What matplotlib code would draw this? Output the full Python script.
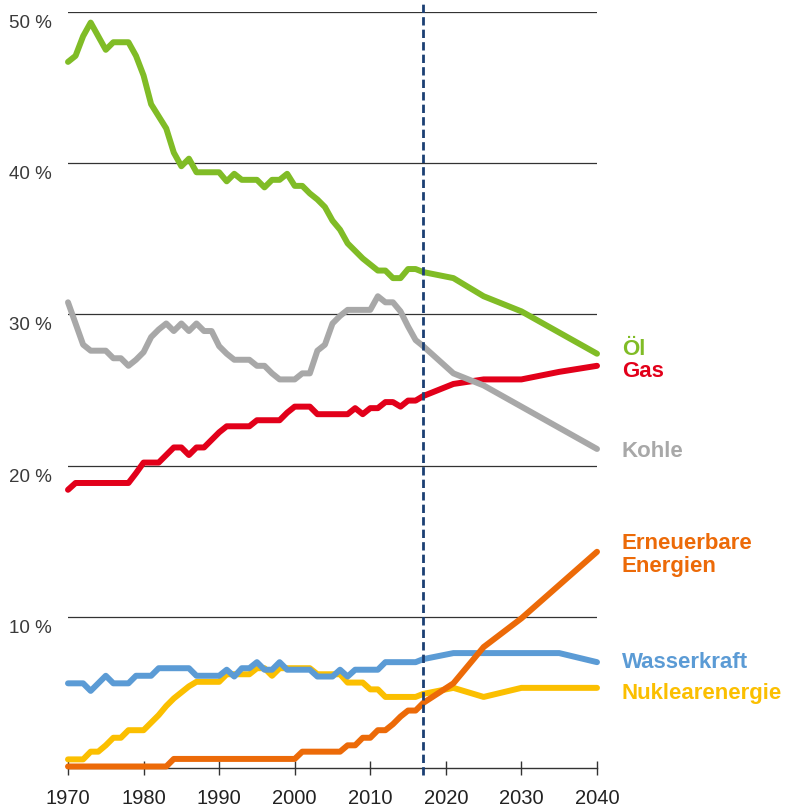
import matplotlib
matplotlib.use("Agg")
import matplotlib.pyplot as plt
import numpy as np

hist_years = list(range(1970, 2018))
proj_years = [2021, 2025, 2030, 2035, 2040]

oil_hist = [46.7, 47.1, 48.4, 49.3, 48.4, 47.5, 48.0, 48.0, 48.0, 47.1,
            45.8, 43.9, 43.1, 42.3, 40.7, 39.8, 40.3, 39.4, 39.4, 39.4,
            39.4, 38.8, 39.3, 38.9, 38.9, 38.9, 38.4, 38.9, 38.9, 39.3,
            38.5, 38.5, 38.0, 37.6, 37.1, 36.2, 35.6, 34.7, 34.2, 33.7,
            33.3, 32.9, 32.9, 32.4, 32.4, 33.0, 33.0, 32.8]
oil_proj = [32.4, 31.2, 30.2, 28.8, 27.4]

gas_hist = [18.4, 18.85, 18.85, 18.85, 18.85, 18.85, 18.85, 18.85, 18.85, 19.5,
            20.2, 20.2, 20.2, 20.7, 21.2, 21.2, 20.7, 21.2, 21.2, 21.7,
            22.2, 22.6, 22.6, 22.6, 22.6, 23.0, 23.0, 23.0, 23.0, 23.5,
            23.9, 23.9, 23.9, 23.4, 23.4, 23.4, 23.4, 23.4, 23.8, 23.4,
            23.8, 23.8, 24.2, 24.2, 23.9, 24.3, 24.3, 24.6]
gas_proj = [25.4, 25.7, 25.7, 26.2, 26.6]

coal_hist = [30.8, 29.4, 28.0, 27.6, 27.6, 27.6, 27.1, 27.1, 26.6, 27.0,
             27.5, 28.5, 29.0, 29.4, 28.9, 29.4, 28.9, 29.4, 28.9, 28.9,
             27.9, 27.4, 27.0, 27.0, 27.0, 26.6, 26.6, 26.1, 25.7, 25.7,
             25.7, 26.1, 26.1, 27.6, 28.0, 29.4, 29.9, 30.3, 30.3, 30.3,
             30.3, 31.2, 30.8, 30.8, 30.2, 29.2, 28.3, 27.9]
coal_proj = [26.1, 25.3, 23.9, 22.5, 21.1]

ren_hist = [0.1] * 14 + [0.6] * 17 + [1.08] * 6 + [1.5, 1.5, 2.0, 2.0, 2.5, 2.5, 2.9, 3.4, 3.8, 3.8, 4.3]
ren_proj = [5.6, 8.0, 9.9, 12.1, 14.3]

hydro_hist = [5.6, 5.6, 5.6, 5.1, 5.6, 6.1, 5.6, 5.6, 5.6, 6.1,
              6.1, 6.1, 6.6, 6.6, 6.6, 6.6, 6.6, 6.1, 6.1, 6.1,
              6.1, 6.5, 6.05, 6.6, 6.6, 7.0, 6.5, 6.5, 7.0, 6.5,
              6.5, 6.5, 6.5, 6.05, 6.05, 6.05, 6.5, 6.05, 6.5, 6.5,
              6.5, 6.5, 7.0, 7.0, 7.0, 7.0, 7.0, 7.2]
hydro_proj = [7.6, 7.6, 7.6, 7.6, 7.0]

nuc_hist = [0.57, 0.57, 0.57, 1.08, 1.08, 1.5, 2.0, 2.0, 2.5, 2.5,
            2.5, 3.0, 3.5, 4.1, 4.6, 5.0, 5.4, 5.7, 5.7, 5.7,
            5.7, 6.2, 6.2, 6.2, 6.2, 6.6, 6.6, 6.1, 6.6, 6.6,
            6.6, 6.6, 6.6, 6.2, 6.2, 6.2, 6.2, 5.65, 5.65, 5.65,
            5.2, 5.2, 4.7, 4.7, 4.7, 4.7, 4.7, 4.9]
nuc_proj = [5.3, 4.7, 5.3, 5.3, 5.3]

labels = ["Öl", "Gas", "Kohle", "Erneuerbare\nEnergien", "Wasserkraft", "Nuklearenergie"]
colors = ["#80bc26", "#e2001a", "#a8a8a8", "#ec6a08", "#5b9bd5", "#fbbf00"]
label_y = [27.7, 26.2, 20.9, 14.1, 6.95, 4.96]

y_ticks = [10, 20, 30, 40, 50]
y_ticklabels = ["10 %", "20 %", "30 %", "40 %", "50 %"]
x_ticks = [1970, 1980, 1990, 2000, 2010, 2020, 2030, 2040]
forecast_year = 2017

series = [oil_hist + oil_proj, gas_hist + gas_proj, coal_hist + coal_proj,
          ren_hist + ren_proj, hydro_hist + hydro_proj, nuc_hist + nuc_proj]
years = hist_years + proj_years

plt.rcParams['font.family'] = ['Liberation Sans', 'DejaVu Sans']

fig = plt.figure(figsize=(8.04, 8.07), dpi=100)
ax = fig.add_axes([68 / 804, 39 / 807, 529 / 804, 756 / 807])
ax.set_xlim(1970, 2040)
ax.set_ylim(0, 50)
for s in ["left", "right", "top"]:
    ax.spines[s].set_visible(False)
ax.spines["bottom"].set_color("#333333")
ax.spines["bottom"].set_linewidth(1.0)

for yt, yl in zip(y_ticks, y_ticklabels):
    ax.axhline(yt, color="#333333", lw=0.9, zorder=1)
    ax.text(-0.03, yt - 0.2, yl, transform=ax.get_yaxis_transform(),
            ha="right", va="top", fontsize=13.5, color="#3a3a3a")
ax.set_yticks([])

ax.set_xticks(x_ticks)
ax.set_xticklabels([str(x) for x in x_ticks], fontsize=14.5, color="#222222")
ax.tick_params(axis="x", direction="inout", length=10, width=1.0, color="#333333", pad=10)

order = [5, 4, 1, 2, 0, 3]
for i in order:
    ax.plot(years, series[i], color=colors[i], lw=4.3, solid_capstyle="round",
            solid_joinstyle="round", clip_on=False, zorder=3 + order.index(i))

ax.vlines(forecast_year, -0.45, 50.5, colors="#1b3f73", linestyles=(0, (3.0, 1.5)),
          lw=2.0, clip_on=False, zorder=10)

for i, lab in enumerate(labels):
    ax.text(2043.3, label_y[i], lab, color=colors[i], fontsize=16, fontweight="bold",
            ha="left", va="center", linespacing=1.15)

fig.savefig("out.png", dpi=100)
